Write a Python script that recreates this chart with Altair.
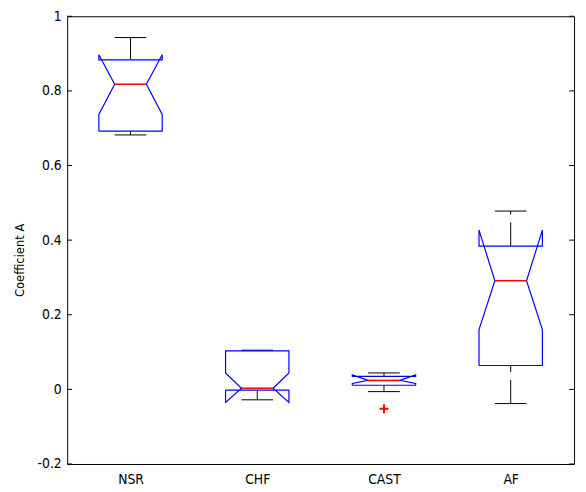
import altair as alt
import pandas as pd

# ---- data ----
groups = ["NSR", "CHF", "CAST", "AF"]
positions = [1, 2, 3, 4]
upper_whisker = [0.943, 0.105, 0.044, 0.478]
q3 = [0.883, 0.103, 0.035, 0.384]
notch_hi = [0.897, 0.044, 0.039, 0.427]
median = [0.818, 0.003, 0.024, 0.291]
notch_lo = [0.737, -0.035, 0.016, 0.160]
q1 = [0.692, -0.002, 0.011, 0.064]
lower_whisker = [0.682, -0.028, -0.006, -0.038]
outlier_group = ["CAST"]
outlier_value = [-0.052]
y_ticks = [-0.2, 0, 0.2, 0.4, 0.6, 0.8, 1]

# ---- geometry (in category units) ----
BOX = 0.25
NOTCH = 0.125
CAP = 0.125
W, H = 514, 454
FONT = "Liberation Sans Narrow, DejaVu Sans Condensed, Liberation Sans"

poly_rows = []
for i, g in enumerate(groups):
    c = positions[i]
    pts = [(c - BOX, q1[i]), (c - BOX, notch_lo[i]), (c - NOTCH, median[i]),
           (c - BOX, notch_hi[i]), (c - BOX, q3[i]), (c + BOX, q3[i]),
           (c + BOX, notch_hi[i]), (c + NOTCH, median[i]), (c + BOX, notch_lo[i]),
           (c + BOX, q1[i]), (c - BOX, q1[i])]
    for k, (x, y) in enumerate(pts):
        poly_rows.append({"g": g, "k": k, "x": x, "y": y})
poly = pd.DataFrame(poly_rows)

stats = pd.DataFrame({
    "g": groups, "pos": positions, "q1": q1, "q3": q3, "med": median,
    "lw": lower_whisker, "uw": upper_whisker,
})
stats["left"] = stats["pos"] - NOTCH
stats["right"] = stats["pos"] + NOTCH
stats["capl"] = stats["pos"] - CAP
stats["capr"] = stats["pos"] + CAP

out = pd.DataFrame({"g": outlier_group, "v": outlier_value})
out["pos"] = out["g"].map(dict(zip(groups, positions)))

label_js = "[" + ",".join(["''"] + [f"'{g}'" for g in groups]) + "][datum.value]"

xs = alt.Scale(domain=[0.5, 4.5], nice=False, zero=False)
ys = alt.Scale(domain=[-0.2, 1.0], nice=False, zero=False)

x_axis = alt.Axis(values=positions, labelExpr=label_js, ticks=False, domain=False,
                  grid=False, labelPadding=9, title=None, labelFontSize=14,
                  labelColor="black", labelFont=FONT)
y_axis = alt.Axis(values=y_ticks,
                  labelExpr="datum.value < 0 ? '-' + format(-datum.value, '~g') : format(datum.value, '~g')",
                  ticks=False, domain=False, grid=False, labelPadding=6,
                  title="Coefficient A", titleFontWeight="normal", titleFontSize=13,
                  titleFont=FONT, titleColor="black",
                  titleX=-48, titleY=247, titleAlign="center", titleBaseline="middle",
                  titleAngle=270,
                  labelFontSize=14, labelColor="black", labelFont=FONT)

base = alt.Chart(stats)

whisk_up = base.mark_rule(color="black", strokeDash=[24, 8], strokeWidth=1).encode(
    x=alt.X("pos:Q", scale=xs, axis=x_axis),
    y=alt.Y("q3:Q", scale=ys, axis=y_axis), y2="uw:Q")
whisk_lo = base.mark_rule(color="black", strokeDash=[24, 8], strokeWidth=1).encode(
    x=alt.X("pos:Q", scale=xs), y=alt.Y("lw:Q", scale=ys), y2="q1:Q")
cap_up = base.mark_rule(color="black", strokeWidth=1).encode(
    x=alt.X("capl:Q", scale=xs), x2="capr:Q", y=alt.Y("uw:Q", scale=ys))
cap_lo = base.mark_rule(color="black", strokeWidth=1).encode(
    x=alt.X("capl:Q", scale=xs), x2="capr:Q", y=alt.Y("lw:Q", scale=ys))

box = alt.Chart(poly).mark_line(color="#0000FF", strokeWidth=1.2).encode(
    x=alt.X("x:Q", scale=xs), y=alt.Y("y:Q", scale=ys),
    detail="g:N", order="k:Q")

med = base.mark_rule(color="#FF0000", strokeWidth=1.6).encode(
    x=alt.X("left:Q", scale=xs), x2="right:Q", y=alt.Y("med:Q", scale=ys))

outl = alt.Chart(out).mark_point(
    shape="M-1,0L1,0M0,-1L0,1", size=81, color="#FF0000", strokeWidth=2, filled=False,
    opacity=1).encode(x=alt.X("pos:Q", scale=xs), y=alt.Y("v:Q", scale=ys))

tick_df = pd.DataFrame({"v": y_ticks})
lt = alt.Chart(tick_df).mark_rule(color="black").encode(
    y=alt.Y("v:Q", scale=ys), x=alt.value(0), x2=alt.value(5))
rt = alt.Chart(tick_df).mark_rule(color="black").encode(
    y=alt.Y("v:Q", scale=ys), x=alt.value(W - 5), x2=alt.value(W))

chart = alt.layer(whisk_up, whisk_lo, cap_up, cap_lo, box, med, outl, lt, rt).properties(
    width=W, height=H,
    autosize=alt.AutoSizeParams(type="none"),
    padding={"left": 60, "top": 5, "right": 4, "bottom": 25},
    background="white",
).configure_view(stroke="black", strokeWidth=1)

chart.save("out.html", embed_options={"renderer": "svg", "actions": False})
